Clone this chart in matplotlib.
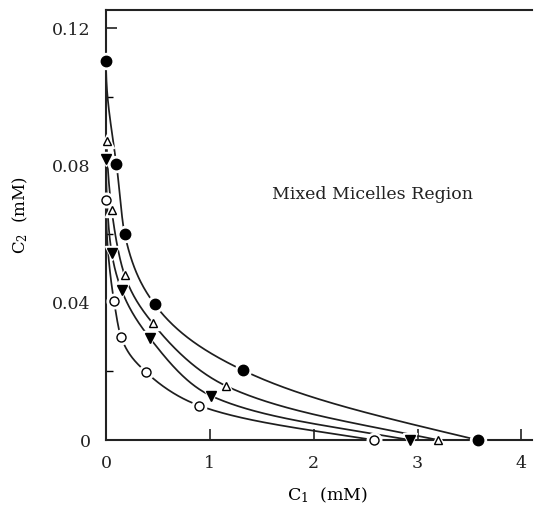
import numpy as np
import matplotlib
matplotlib.use("Agg")
import matplotlib.pyplot as plt

plt.rcParams['font.family'] = ['DejaVu Serif']
plt.rcParams['mathtext.fontset'] = 'dejavuserif'

# C1 (mM), C2 (mM), one pair of arrays per series
c1_filled_circle = [0.0, 0.10, 0.18, 0.47, 1.32, 3.58]
c2_filled_circle = [0.1105, 0.0805, 0.060, 0.0395, 0.0203, 0.0]

c1_open_triangle = [0.005, 0.055, 0.18, 0.45, 1.16, 3.20]
c2_open_triangle = [0.087, 0.067, 0.048, 0.034, 0.0157, 0.0]

c1_filled_triangle = [0.0, 0.055, 0.15, 0.42, 1.01, 2.93]
c2_filled_triangle = [0.082, 0.0545, 0.0437, 0.0298, 0.0129, 0.0]

c1_open_circle = [0.0, 0.077, 0.145, 0.385, 0.90, 2.58]
c2_open_circle = [0.070, 0.0405, 0.030, 0.0198, 0.010, 0.0]


def pchip(xk, yk, xn):
    """Monotone cubic (Fritsch-Carlson) through the given points"""
    xk = np.asarray(xk, float)
    yk = np.asarray(yk, float)
    h = np.diff(xk)
    d = np.diff(yk) / h
    n = len(xk)
    m = np.zeros(n)
    m[0], m[-1] = d[0], d[-1]
    for k in range(1, n - 1):
        if d[k - 1] * d[k] > 0:
            w1 = 2 * h[k] + h[k - 1]
            w2 = h[k] + 2 * h[k - 1]
            m[k] = (w1 + w2) / (w1 / d[k - 1] + w2 / d[k])
    idx = np.clip(np.searchsorted(xk, xn) - 1, 0, n - 2)
    t = (xn - xk[idx]) / h[idx]
    h00 = 2 * t**3 - 3 * t**2 + 1
    h10 = t**3 - 2 * t**2 + t
    h01 = -2 * t**3 + 3 * t**2
    h11 = t**3 - t**2
    return (h00 * yk[idx] + h10 * h[idx] * m[idx]
            + h01 * yk[idx + 1] + h11 * h[idx] * m[idx + 1])


def smooth_curve(cx, cy):
    # interpolate y against sqrt(C1): steep at C1 = 0, meets the axis at an angle
    u = np.sqrt(cx)
    un = np.linspace(u[0], u[-1], 400)
    yn = pchip(u, cy, un)
    return un**2, np.clip(yn, 0, None)


fig = plt.figure(figsize=(5.34, 5.07), dpi=100)
ax = fig.add_axes([0.1985, 0.1321, 0.7975, 0.8482])

series = [
    (c1_filled_circle, c2_filled_circle, 'o', 'black', 7.5),
    (c1_open_triangle, c2_open_triangle, '^', 'white', 6.0),
    (c1_filled_triangle, c2_filled_triangle, 'v', 'black', 6.5),
    (c1_open_circle, c2_open_circle, 'o', 'white', 6.5),
]

for cx, cy, mk, fc, ms in series:
    xs, ys = smooth_curve(cx, cy)
    ax.plot(xs, ys, color='#1e1e1e', lw=1.25, zorder=2)
    # white halo gives the little gap in the line around each marker
    ax.plot(cx, cy, ls='none', marker=mk, ms=ms + 4, mfc='white', mec='white',
            zorder=3, clip_on=False)
    ax.plot(cx, cy, ls='none', marker=mk, ms=ms, mfc=fc, mec='black', mew=1.0,
            zorder=4, clip_on=False)

ax.set_xlim(0, 4.1)
ax.set_ylim(0, 0.1253)
ax.set_xticks([0, 1, 2, 3, 4])
ax.set_xticklabels(['0', '1', '2', '3', '4'])
ax.set_yticks([0, 0.04, 0.08, 0.12])
ax.set_yticklabels(['0', '0.04', '0.08', '0.12'])
ax.set_yticks([0.02, 0.06, 0.10], minor=True)

ax.spines['right'].set_visible(False)
for s in ['left', 'bottom', 'top']:
    ax.spines[s].set_linewidth(1.5)
    ax.spines[s].set_color('#222222')

ax.tick_params(axis='both', which='major', direction='in', length=8, width=1.2,
               labelsize=12.5, pad=11, colors='#222222')
ax.tick_params(axis='y', which='minor', direction='in', length=5, width=1.0)

ax.set_xlabel(r'C$_1$  (mM)', fontsize=12.5)
ax.xaxis.set_label_coords(0.52, -0.105)
ax.set_ylabel(r'C$_2$  (mM)', fontsize=12)
ax.yaxis.set_label_coords(-0.178, 0.523)

ax.text(1.6, 0.0714, 'Mixed Micelles Region', fontsize=12.5, va='center', ha='left',
        color='#222222')

fig.savefig('out.png', dpi=100)
